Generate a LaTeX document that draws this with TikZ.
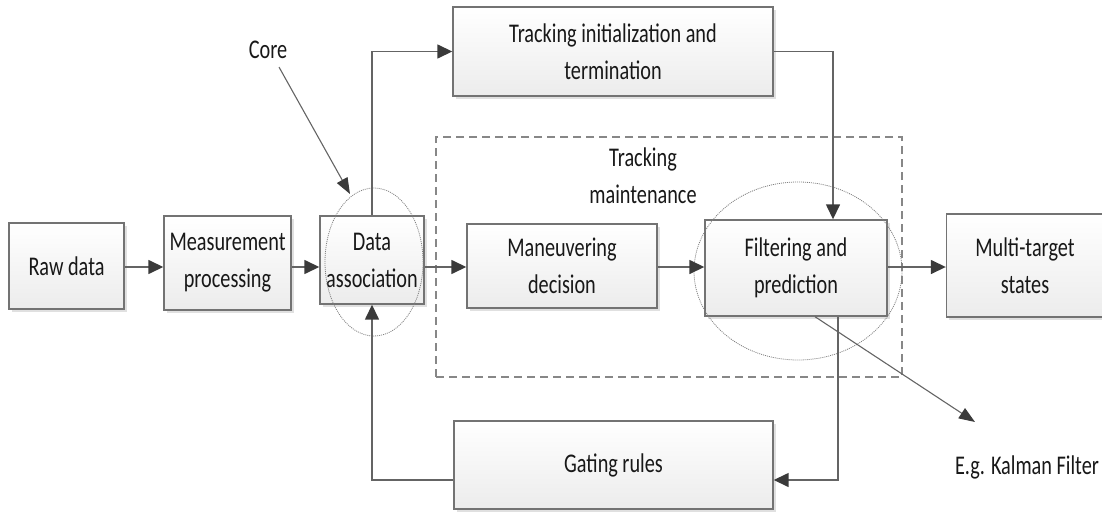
\documentclass[tikz,border=0pt]{standalone}
\usepackage{fontspec}
\setmainfont{Carlito}[FakeStretch=0.75]
\usetikzlibrary{arrows.meta,shadows,shapes.geometric}
\definecolor{ink}{RGB}{24,24,24}
\definecolor{edge}{RGB}{115,115,115}
\definecolor{wire}{RGB}{100,100,100}
\definecolor{tipc}{RGB}{58,58,58}
\definecolor{dashc}{RGB}{135,135,135}
\tikzset{
  txt/.style={font=\fontsize{27}{37}\selectfont, text=ink, align=center, inner sep=0pt},
  blk/.style={txt, draw=edge, line width=1.4pt, top color=white, bottom color=gray!15,
    drop shadow={shadow xshift=2.5pt, shadow yshift=-3pt, fill=black, opacity=0.12}},
  flow/.style={draw=wire, line width=1.5pt,
    -{Triangle[length=15pt,width=14pt,fill=tipc,color=tipc]}},
  pointer/.style={draw=wire, line width=1.1pt,
    -{Triangle[length=16pt,width=12pt,fill=tipc,color=tipc]}},
  ring/.style={ellipse, draw=gray, line width=0.8pt, dash pattern=on 1pt off 1pt, inner sep=0pt},
  zone/.style={draw=dashc, line width=1.4pt, dash pattern=on 8pt off 5pt, inner sep=0pt}
}
\begin{document}
\begin{tikzpicture}[x=1pt,y=-1pt]
\useasboundingbox (0,0) rectangle (1102,511);

% tracking maintenance region
\node[zone, minimum width=466pt, minimum height=240pt] (maint) at (669,257) {};
\node[txt] (mtl) at (643,176) {Tracking\\maintenance};

% processing blocks
\node[blk, minimum width=115pt, minimum height=86pt]  (raw)   at (66.5,266)  {Raw data};
\node[blk, minimum width=127pt, minimum height=94pt]  (meas)  at (227.5,263) {Measurement\\processing};
\node[blk, minimum width=104pt, minimum height=88pt]  (da)    at (372,260)   {Data\\association};
\node[blk, minimum width=190pt, minimum height=84pt]  (man)   at (562,266)   {Maneuvering\\decision};
\node[blk, minimum width=182pt, minimum height=96pt]  (filt)  at (796,268)   {Filtering and\\prediction};
\node[blk, minimum width=157pt, minimum height=103pt] (multi) at (1025,265.5) {Multi-target\\states};
\node[blk, minimum width=320pt, minimum height=89pt]  (init)  at (613,51.5)  {Tracking initialization and\\termination};
\node[blk, minimum width=319pt, minimum height=88pt]  (gate)  at (613.5,465) {Gating rules};

% highlighted groups
\node[ring, minimum width=98pt, minimum height=148pt]  (coreset) at (374,262) {};
\node[ring, minimum width=208pt, minimum height=178pt] (filtset) at (798,271) {};

% main flow
\coordinate (row) at (0,267);
\draw[flow] (raw.east |- row) -- (meas.west |- row);
\draw[flow] (meas.east |- row) -- (da.west |- row);
\draw[flow] (da.east |- row) -- (man.west |- row);
\draw[flow] (man.east |- row) -- (filt.west |- row);
\draw[flow] (filt.east |- row) -- (multi.west |- row);

% track management and gating loop
\draw[flow] (da.north) |- (init.west);
\draw[flow] (init.east) -| ([xshift=37pt]filt.north);
\draw[flow] ([xshift=42pt]filt.south) |- ([yshift=-15pt]gate.east);
\draw[flow] ([yshift=-15pt]gate.west) -| (da.south);

% annotations
\node[txt] (core) at (268,50) {Core};
\coordinate (coretip) at (350,194);
\draw[pointer] ([xshift=11pt,yshift=-8pt]core.south) -- (coretip);

\node[txt] (kal) at (1027,467) {E.g. Kalman Filter};
\coordinate (kaltip) at (975,422);
\draw[pointer] ([xshift=19pt]filt.south) -- (kaltip);
\end{tikzpicture}
\end{document}
